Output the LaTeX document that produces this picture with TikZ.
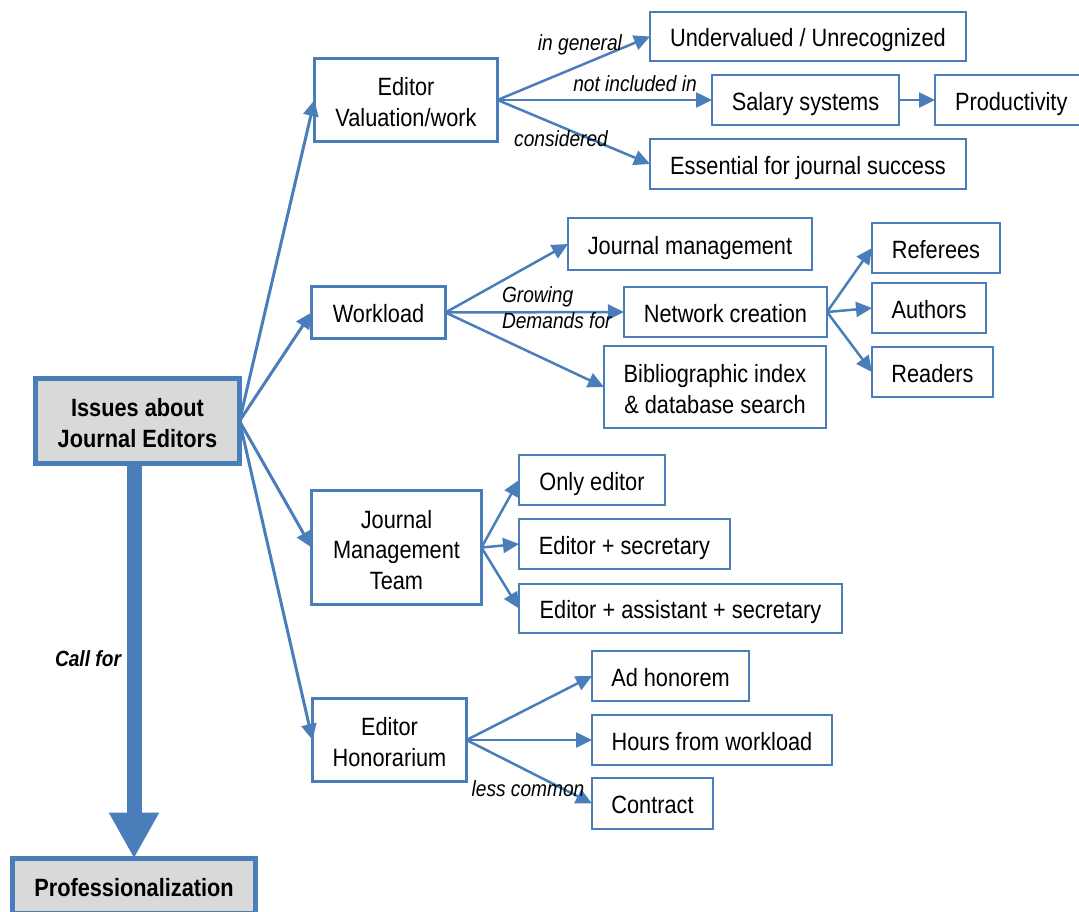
\documentclass[tikz,border=0pt]{standalone}
\usepackage{fontspec}
\setmainfont{Liberation Sans}[FakeStretch=0.87]
\usetikzlibrary{arrows.meta}
\definecolor{edgeblue}{RGB}{74,126,187}
\definecolor{boxgray}{RGB}{217,217,217}
\newcommand{\boxstrut}{\rule[-6pt]{0pt}{32pt}}
\newcommand{\topstrut}{\rule{0pt}{28pt}}
\newcommand{\botstrut}{\rule[-6pt]{0pt}{6pt}}
\begin{document}
\begin{tikzpicture}[x=1pt,y=-1pt,
  every node/.style={inner sep=0pt, outer sep=0pt, align=center, font=\fontsize{25}{30.5}\selectfont},
  onebox/.style={execute at begin node=\boxstrut, execute at end node=\boxstrut},
  mainbox/.style={draw=edgeblue, line width=5pt, fill=boxgray, font=\bfseries\fontsize{25}{30.5}\selectfont},
  levelone/.style={draw=edgeblue, line width=3pt, fill=white},
  leveltwo/.style={draw=edgeblue, line width=2pt, fill=white},
  lbl/.style={font=\itshape\fontsize{22}{26}\selectfont},
  mainarrow/.style={draw=edgeblue, line width=3pt, -{Triangle[length=16pt,width=15pt]}},
  subarrow/.style={draw=edgeblue, line width=2.5pt, -{Triangle[length=16pt,width=15pt]}},
  bigarrow/.style={draw=edgeblue, line width=15pt, -{Triangle[length=46pt,width=47pt]}}
]
\clip (0,0) rectangle (1079,911);
\fill[white] (0,0) rectangle (1079,911);

% main boxes
\node[mainbox, minimum width=204pt, minimum height=85pt] (issues) at (137.5,421) {\topstrut Issues about\\Journal Editors\botstrut};
\node[mainbox, onebox, minimum width=243pt, minimum height=55pt] (prof) at (134,886) {Professionalization};

% level one
\node[levelone, minimum width=183pt, minimum height=83pt] (val) at (406,100) {\topstrut Editor\\Valuation/work\botstrut};
\node[levelone, onebox, minimum width=134pt, minimum height=52pt] (work) at (378.5,312.5) {Workload};
\node[levelone, minimum width=170pt, minimum height=114pt] (jmt) at (396.5,547.5) {\topstrut Journal\\Management\\Team\botstrut};
\node[levelone, minimum width=154pt, minimum height=83pt] (hon) at (389.5,740) {\topstrut Editor\\Honorarium\botstrut};

% level two
\node[leveltwo, onebox, minimum width=316pt, minimum height=49pt] (under) at (808,36.5) {Undervalued / Unrecognized};
\node[leveltwo, onebox, minimum width=187pt, minimum height=50pt] (salary) at (805.5,100) {Salary systems};
\node[leveltwo, onebox, minimum width=149pt, minimum height=50pt, text width=149pt, align=left] (prod) at (1009.5,100) {\hspace*{20pt}Productivity};
\node[leveltwo, onebox, minimum width=316pt, minimum height=50pt] (ess) at (808,164) {Essential for journal success};

\node[leveltwo, onebox, minimum width=244pt, minimum height=52pt] (jm) at (690,244) {Journal management};
\node[leveltwo, onebox, minimum width=203pt, minimum height=50pt] (net) at (725.5,312) {Network creation};
\node[leveltwo, minimum width=222pt, minimum height=82pt] (bib) at (715,387) {\topstrut Bibliographic index\\\& database search\botstrut};

\node[leveltwo, onebox, minimum width=128pt, minimum height=50pt] (ref) at (936,248) {Referees};
\node[leveltwo, onebox, minimum width=114pt, minimum height=50pt] (auth) at (929,308) {Authors};
\node[leveltwo, onebox, minimum width=121pt, minimum height=50pt] (read) at (932.5,372) {Readers};

\node[leveltwo, onebox, minimum width=146pt, minimum height=50pt] (only) at (592,480) {Only editor};
\node[leveltwo, onebox, minimum width=211pt, minimum height=50pt] (sec) at (624.5,544) {Editor + secretary};
\node[leveltwo, onebox, minimum width=323pt, minimum height=49pt] (asst) at (680.5,608.5) {Editor + assistant + secretary};

\node[leveltwo, onebox, minimum width=157pt, minimum height=50pt] (adh) at (670.5,676) {Ad honorem};
\node[leveltwo, onebox, minimum width=240pt, minimum height=50pt] (hours) at (712,740) {Hours from workload};
\node[leveltwo, onebox, minimum width=121pt, minimum height=51pt] (contract) at (652.5,803.5) {Contract};

% big arrow
\draw[bigarrow] (prof.north |- issues.south) -- (prof.north);

% main connectors
\draw[mainarrow] (issues.east) -- (val.west);
\draw[mainarrow] (issues.east) -- (work.west);
\draw[mainarrow] (issues.east) -- (jmt.west);
\draw[mainarrow] (issues.east) -- (hon.west);

% valuation
\draw[subarrow] (val.east) -- (under.west);
\draw[subarrow] (val.east) -- (salary.west);
\draw[subarrow] (val.east) -- (ess.west);
\draw[subarrow] (salary.east) -- (prod.west);

% workload
\draw[subarrow] (work.east) -- (jm.west);
\draw[subarrow] (work.east) -- (net.west);
\draw[subarrow] (work.east) -- (bib.west);

% network
\draw[subarrow] (net.east) -- (ref.west);
\draw[subarrow] (net.east) -- (auth.west);
\draw[subarrow] (net.east) -- (read.west);

% team
\draw[subarrow] (jmt.east) -- (only.west);
\draw[subarrow] (jmt.east) -- (sec.west);
\draw[subarrow] (jmt.east) -- (asst.west);

% honorarium
\draw[subarrow] (hon.east) -- (adh.west);
\draw[subarrow] (hon.east) -- (hours.west);
\draw[subarrow] (hon.east) -- (contract.west);

% labels
\node[lbl] (lgen) at (580,45) {in general};
\node[lbl] (lnot) at (635,84) {not included in};
\node[lbl] (lcon) at (561,139) {considered};
\node[lbl, anchor=west, align=left] (lgrow) at (502,308) {Growing\\Demands for};
\node[lbl] (lless) at (528,789) {less common};
\node[lbl, font=\bfseries\itshape\fontsize{22}{26}\selectfont] (lcall) at (88,659) {Call for};
\end{tikzpicture}
\end{document}
